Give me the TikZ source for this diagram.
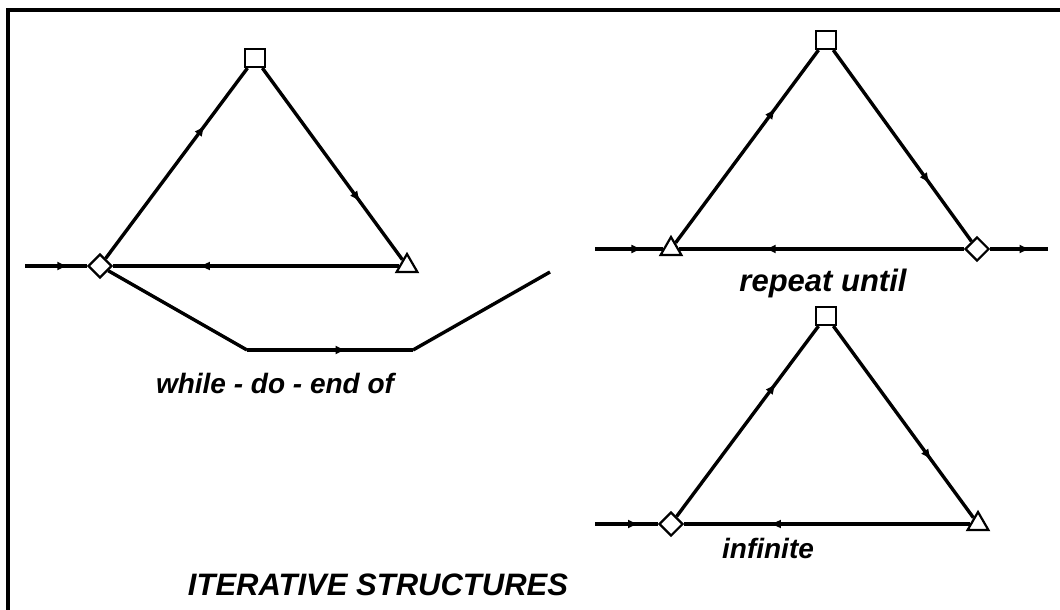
\documentclass[tikz,border=0pt]{standalone}
\usepackage{fontspec}
\setmainfont{Liberation Sans}
\usetikzlibrary{shapes.geometric,decorations.markings,arrows.meta}
\tikzset{
  edge/.style={line width=1.7pt, postaction={decorate},
    decoration={markings, mark=at position 0.7 with {\arrow{Latex[length=5.5pt,width=4.5pt]}}}},
  plain/.style={line width=1.7pt},
  sq/.style={draw, line width=1.1pt, rectangle, minimum width=10pt, minimum height=9pt, inner sep=0pt, fill=white},
  dia/.style={draw, line width=1.1pt, diamond, minimum size=12pt, inner sep=0pt, fill=white},
  tri/.style={draw, line width=1.1pt, regular polygon, regular polygon sides=3, minimum size=12pt, inner sep=0pt, fill=white},
  lbl/.style={font=\fontsize{14}{16}\selectfont\bfseries\itshape}
}
\begin{document}
\begin{tikzpicture}[x=0.5pt, y=-0.5pt]
  \useasboundingbox (0,0) rectangle (1060,610);
  % frame
  \draw[line width=2pt] (8,610) -- (8,10) -- (1060,10);

  % while - do - end of
  \coordinate (win) at (25,266);
  \node[dia] (wd) at (100,266) {};
  \node[sq]  (ws) at (255,58) {};
  \node[tri] (wt) at (407,266) {};
  \coordinate (wa) at (247,350);
  \coordinate (wb) at (413,350);
  \coordinate (wout) at (550,272);
  \draw[edge] (win) -- (wd);
  \draw[edge] (wd) -- (ws);
  \draw[edge] (ws) -- (wt);
  \draw[edge] (wt) -- (wd);
  \draw[plain] (wd) -- (wa);
  \draw[plain, postaction={decorate},
    decoration={markings, mark=at position 0.6 with {\arrow{Latex[length=5.5pt,width=4.5pt]}}}] (wa) -- (wb);
  \draw[plain] (wb) -- (wout);
  \node[lbl] (wl) at (275,383) {while - do - end of};

  % repeat until
  \coordinate (rin) at (595,249);
  \node[tri] (rt) at (671,249) {};
  \node[sq]  (rs) at (826,40) {};
  \node[dia] (rd) at (977,249) {};
  \coordinate (rout) at (1048,249);
  \draw[edge] (rin) -- (rt);
  \draw[edge] (rt) -- (rs);
  \draw[edge] (rs) -- (rd);
  \draw[edge] (rd) -- (rt);
  \draw[edge] (rd) -- (rout);
  \node[lbl, font=\fontsize{15.5}{18}\selectfont\bfseries\itshape] (rl) at (823,283) {repeat until};

  % infinite
  \coordinate (iin) at (595,524);
  \node[dia] (id) at (671,524) {};
  \node[sq]  (is) at (826,316) {};
  \node[tri] (it) at (978,524) {};
  \draw[edge] (iin) -- (id);
  \draw[edge] (id) -- (is);
  \draw[edge] (is) -- (it);
  \draw[edge] (it) -- (id);
  \node[lbl] (il) at (768,548) {infinite};

  \node[lbl, font=\fontsize{15.5}{18}\selectfont\bfseries\itshape] (title) at (378,585) {ITERATIVE STRUCTURES};
\end{tikzpicture}
\end{document}
